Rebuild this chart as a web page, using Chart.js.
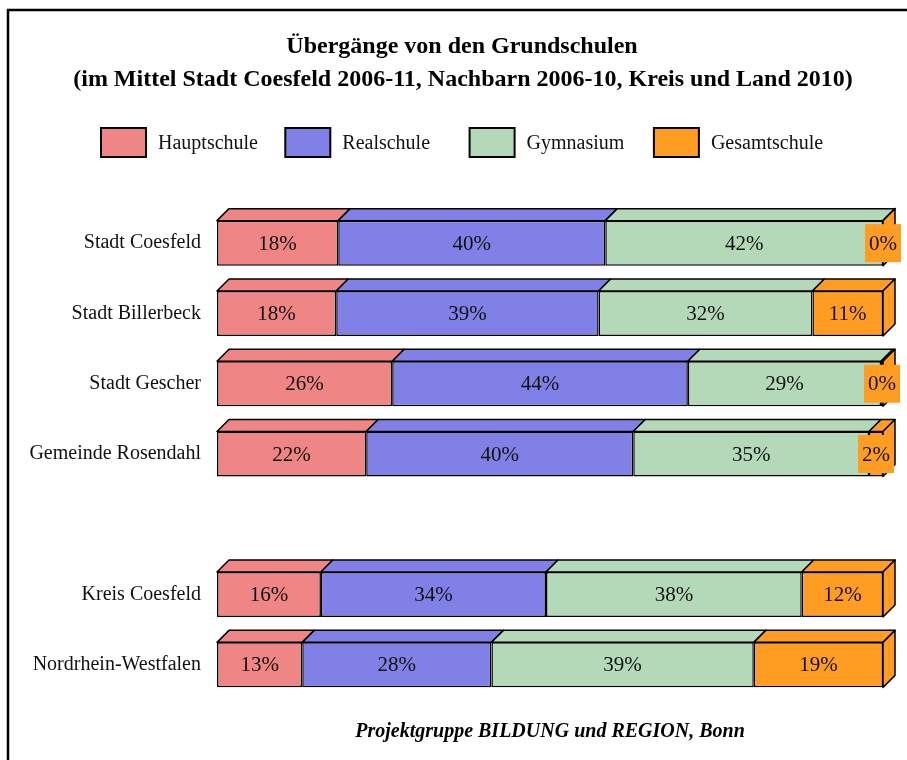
<!DOCTYPE html>
<html>
<head>
<meta charset="utf-8">
<script src="https://cdn.jsdelivr.net/npm/chart.js@4/dist/chart.umd.min.js"></script>
<style>
  html, body { margin: 0; padding: 0; background: #fff; }
  #c { display: block; }
</style>
</head>
<body>
<canvas id="c" width="907" height="760"></canvas>
<script>
// ---- data ----
const categories = ['Stadt Coesfeld', 'Stadt Billerbeck', 'Stadt Gescher', 'Gemeinde Rosendahl', '', 'Kreis Coesfeld', 'Nordrhein-Westfalen'];
const seriesNames = ['Hauptschule', 'Realschule', 'Gymnasium', 'Gesamtschule'];
const hauptschule  = [18.2, 17.9, 26.3, 22.4, null, 15.6, 12.8];
const realschule   = [40.1, 39.4, 44.4, 40.1, null, 33.8, 28.4];
const gymnasium    = [41.7, 32.1, 29.0, 35.4, null, 38.4, 39.4];
const gesamtschule = [0.0, 10.6, 0.3, 2.1, null, 12.2, 19.4];
const titleLines = ['Übergänge von den Grundschulen', '(im Mittel Stadt Coesfeld 2006-11, Nachbarn 2006-10, Kreis und Land 2010)'];
const footerText = 'Projektgruppe BILDUNG und REGION, Bonn';

const colors = ['#EF8585', '#8080E6', '#B4D9B9', '#FF9C22'];
const SERIF = "'Liberation Serif', 'Times New Roman', serif";
const DX = 12, DY = 12;

const seriesValues = [hauptschule, realschule, gymnasium, gesamtschule];

const decorPlugin = {
  id: 'decor',
  beforeDraw(chart) {
    const ctx = chart.ctx;
    ctx.save();
    ctx.fillStyle = '#fff';
    ctx.fillRect(0, 0, chart.width, chart.height);
    ctx.strokeStyle = '#000';
    ctx.lineWidth = 2.5;
    ctx.beginPath();
    ctx.moveTo(chart.width, 10);
    ctx.lineTo(8, 10);
    ctx.lineTo(8, chart.height);
    ctx.stroke();
    // title
    ctx.fillStyle = '#000';
    ctx.textAlign = 'center';
    ctx.textBaseline = 'middle';
    ctx.font = `bold 24px ${SERIF}`;
    ctx.fillText(titleLines[0], 462, 47);
    ctx.fillText(titleLines[1], 463, 80);
    ctx.restore();
  },
  afterDatasetsDraw(chart) {
    const ctx = chart.ctx;
    const metas = chart.data.datasets.map((d, i) => chart.getDatasetMeta(i));
    ctx.save();
    ctx.lineJoin = 'round';
    // 3D top faces and side faces
    for (let c = 0; c < categories.length; c++) {
      let maxX = null, top = null, bottom = null;
      metas.forEach((m, di) => {
        const el = m.data[c];
        if (!el || seriesValues[di][c] === null) return;
        const p = el.getProps(['x', 'y', 'base', 'height'], true);
        const t = p.y - p.height / 2;
        top = t; bottom = p.y + p.height / 2;
        const x0 = Math.min(p.base, p.x), x1 = Math.max(p.base, p.x);
        if (maxX === null || x1 > maxX) maxX = x1;
        ctx.beginPath();
        ctx.moveTo(x0, t);
        ctx.lineTo(x0 + DX, t - DY);
        ctx.lineTo(x1 + DX, t - DY);
        ctx.lineTo(x1, t);
        ctx.closePath();
        ctx.fillStyle = colors[di];
        ctx.fill();
        ctx.strokeStyle = '#000';
        ctx.lineWidth = 1.5;
        ctx.stroke();
      });
      if (maxX !== null) {
        ctx.beginPath();
        ctx.moveTo(maxX, top);
        ctx.lineTo(maxX + DX, top - DY);
        ctx.lineTo(maxX + DX, bottom - DY);
        ctx.lineTo(maxX, bottom);
        ctx.closePath();
        ctx.fillStyle = colors[colors.length - 1];
        ctx.fill();
        ctx.strokeStyle = '#000';
        ctx.lineWidth = 1.5;
        ctx.stroke();
      }
    }
    // value labels
    ctx.font = `21px ${SERIF}`;
    ctx.textAlign = 'center';
    ctx.textBaseline = 'middle';
    metas.forEach((m, di) => {
      m.data.forEach((el, c) => {
        const v = seriesValues[di][c];
        if (v === null) return;
        const p = el.getProps(['x', 'y', 'base'], true);
        const cx = (p.x + p.base) / 2;
        const txt = Math.round(v) + '%';
        if (di === metas.length - 1) {
          const w = ctx.measureText(txt).width + 8;
          ctx.fillStyle = colors[di];
          ctx.fillRect(cx - w / 2, p.y - 19, w, 38);
        }
        ctx.fillStyle = '#111';
        ctx.fillText(txt, cx, p.y + 1);
      });
    });
    ctx.restore();
  },
  afterDraw(chart) {
    const ctx = chart.ctx;
    const area = chart.chartArea;
    ctx.save();
    // legend
    const colW = 184.3, x0 = 101, y0 = 128, bw = 45, bh = 29;
    ctx.font = `20px ${SERIF}`;
    ctx.textBaseline = 'middle';
    ctx.textAlign = 'left';
    chart.data.datasets.forEach((ds, i) => {
      const bx = x0 + i * colW;
      ctx.fillStyle = ds.backgroundColor;
      ctx.fillRect(bx, y0, bw, bh);
      ctx.strokeStyle = '#000';
      ctx.lineWidth = 2;
      ctx.strokeRect(bx, y0, bw, bh);
      ctx.fillStyle = '#111';
      ctx.fillText(ds.label, bx + bw + 12, y0 + bh / 2 + 1);
    });
    // footer
    ctx.font = `italic bold 20px ${SERIF}`;
    ctx.textAlign = 'center';
    ctx.fillStyle = '#000';
    ctx.fillText(footerText, (area.left + area.right) / 2, 732);
    ctx.restore();
  }
};

new Chart(document.getElementById('c'), {
  type: 'bar',
  data: {
    labels: categories,
    datasets: seriesValues.map((vals, i) => ({
      label: seriesNames[i],
      data: vals,
      backgroundColor: colors[i],
      borderColor: '#000',
      borderWidth: 1.5,
      borderSkipped: false,
      categoryPercentage: 1,
      barPercentage: 0.64
    }))
  },
  options: {
    indexAxis: 'y',
    responsive: false,
    animation: false,
    devicePixelRatio: 1,
    layout: { padding: { left: 10, right: 24, top: 208, bottom: 60 } },
    scales: {
      x: { stacked: true, min: 0, max: 100, display: false },
      y: {
        stacked: true,
        grid: { display: false, drawTicks: false },
        border: { display: false },
        ticks: { color: '#111', font: { family: SERIF, size: 20 }, padding: 16 },
        afterFit(scale) { scale.width = 207; }
      }
    },
    plugins: {
      legend: { display: false },
      tooltip: { enabled: false },
      title: { display: false }
    }
  },
  plugins: [decorPlugin]
});
</script>
</body>
</html>
